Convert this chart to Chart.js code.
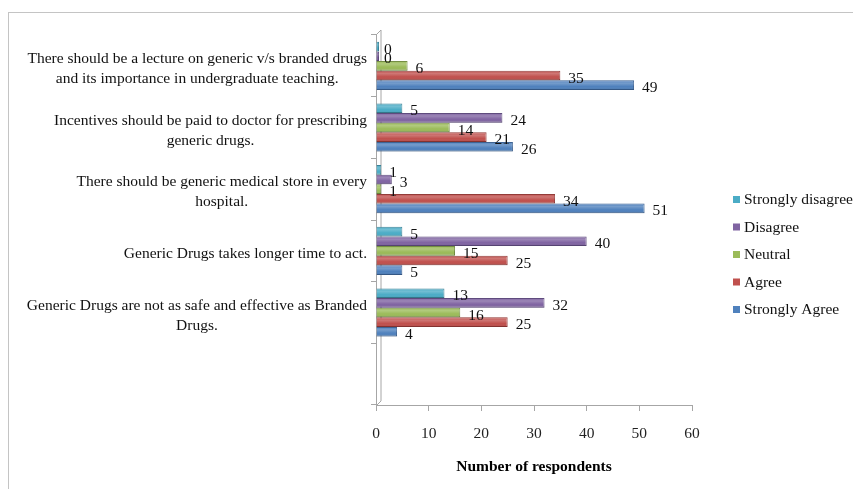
<!DOCTYPE html>
<html>
<head>
<meta charset="utf-8">
<script src="https://cdn.jsdelivr.net/npm/chart.js@4.4.0/dist/chart.umd.min.js"></script>
<style>
  html, body { margin: 0; padding: 0; background: #fff; }
</style>
</head>
<body>
<canvas id="surveyChart" width="853" height="489"></canvas>
<script>
// categories top to bottom (last one is the empty slot Excel left at the bottom)
const categories = [
    ['There should be a lecture on generic v/s branded drugs', 'and its importance in undergraduate teaching.'],
    ['Incentives should be paid to doctor for prescribing', 'generic drugs.'],
    ['There should be generic medical store in every', 'hospital.'],
    ['Generic Drugs takes longer time to act.'],
    ['Generic Drugs are not as safe and effective as Branded', 'Drugs.'],
    ['']
];
const seriesNames = ['Strongly disagree', 'Disagree', 'Neutral', 'Agree', 'Strongly Agree'];
const stronglyDisagree = [0, 5, 1, 5, 13, null];
const disagree = [0, 24, 3, 40, 32, null];
const neutral = [6, 14, 1, 15, 16, null];
const agree = [35, 21, 34, 25, 25, null];
const stronglyAgree = [49, 26, 51, 5, 4, null];
const xTicks = [0, 10, 20, 30, 40, 50, 60];

const seriesColors = ['#4BACC6', '#8064A2', '#9BBB59', '#C0504D', '#4F81BD'];
const seriesBorders = ['#357f94', '#5a467a', '#6f8a3c', '#8f3431', '#365d8f'];
const FONT = '"Liberation Serif", "Times New Roman", serif';
const LABEL_SIZE = 15.5;

const seriesData = [stronglyDisagree, disagree, neutral, agree, stronglyAgree];

// frame, 3D wall, category labels, bar values and legend
const decorPlugin = {
    id: 'decor',
    beforeDraw(chart) {
        const ctx = chart.ctx;
        const { left, top, bottom } = chart.chartArea;
        ctx.save();
        ctx.strokeStyle = '#c4c4c4';
        ctx.lineWidth = 1;
        ctx.strokeRect(8.5, 12.5, 900, 600);
        // back wall of the 3D plot
        ctx.strokeStyle = '#a6a6a6';
        ctx.beginPath();
        ctx.moveTo(left, top);
        ctx.lineTo(left + 5, top - 5);
        ctx.lineTo(left + 5, bottom - 4);
        ctx.lineTo(left, bottom + 1);
        ctx.stroke();
        ctx.restore();
    },
    afterDatasetsDraw(chart) {
        const ctx = chart.ctx;
        // cylinder shading on each bar
        chart.data.datasets.forEach((ds, di) => {
            const meta = chart.getDatasetMeta(di);
            meta.data.forEach((bar, i) => {
                if (ds.data[i] === null) return;
                const h = bar.height;
                const y0 = bar.y - h / 2;
                const g = ctx.createLinearGradient(0, y0, 0, y0 + h);
                g.addColorStop(0, 'rgba(255,255,255,0)');
                g.addColorStop(0.3, 'rgba(255,255,255,0.22)');
                g.addColorStop(0.65, 'rgba(255,255,255,0)');
                g.addColorStop(1, 'rgba(0,0,0,0.12)');
                ctx.fillStyle = g;
                ctx.fillRect(bar.base, y0, bar.x - bar.base, h);
            });
        });
    },
    afterDraw(chart) {
        const ctx = chart.ctx;
        const xScale = chart.scales.x;
        const yScale = chart.scales.y;
        ctx.save();
        ctx.fillStyle = '#111';
        ctx.font = LABEL_SIZE + 'px ' + FONT;
        ctx.textBaseline = 'middle';

        // category labels: block right aligned, lines centred within it
        ctx.textAlign = 'center';
        categories.forEach((lines, i) => {
            const w = Math.max(...lines.map(l => ctx.measureText(l).width));
            const cx = 367 - w / 2;
            const cy = yScale.getPixelForValue(i) + 3;
            const lh = 20;
            lines.forEach((l, k) => {
                ctx.fillText(l, cx, cy + (k - (lines.length - 1) / 2) * lh);
            });
        });

        // value labels at bar ends
        ctx.textAlign = 'left';
        chart.data.datasets.forEach((ds, di) => {
            const meta = chart.getDatasetMeta(di);
            meta.data.forEach((bar, i) => {
                const v = ds.data[i];
                if (v === null) return;
                ctx.fillText(String(v), xScale.getPixelForValue(v) + 8, bar.y + 3);
            });
        });

        // legend
        seriesNames.forEach((name, i) => {
            const y = 200 + i * 27.5;
            ctx.fillStyle = seriesColors[i];
            ctx.fillRect(733, y - 4, 7, 7);
            ctx.fillStyle = '#111';
            ctx.fillText(name, 744, y);
        });
        ctx.restore();
    }
};

new Chart(document.getElementById('surveyChart'), {
    type: 'bar',
    data: {
        labels: categories.map(c => c.join(' ')),
        datasets: seriesNames.map((name, i) => ({
            label: name,
            data: seriesData[i],
            backgroundColor: seriesColors[i],
            borderColor: seriesBorders[i],
            borderWidth: 1,
            minBarLength: 3,
            categoryPercentage: 0.78,
            barPercentage: 1.0
        }))
    },
    options: {
        responsive: false,
        animation: false,
        indexAxis: 'y', // horizontal bars
        layout: {
            padding: { top: 35, left: 0, right: 161, bottom: 0 }
        },
        scales: {
            x: {
                min: 0,
                max: 60,
                afterFit(scale) { scale.height = 84; },
                afterBuildTicks(scale) { scale.ticks = xTicks.map(v => ({ value: v })); },
                grid: {
                    drawOnChartArea: false,
                    tickLength: 6,
                    color: '#a6a6a6'
                },
                border: { color: '#a6a6a6' },
                ticks: {
                    color: '#222',
                    padding: 14,
                    font: { family: FONT, size: LABEL_SIZE }
                },
                title: {
                    display: true,
                    text: 'Number of respondents',
                    color: '#000',
                    font: { family: FONT, size: LABEL_SIZE, weight: 'bold' },
                    padding: { top: 0, bottom: 13 }
                }
            },
            y: {
                afterFit(scale) { scale.width = 376; },
                grid: {
                    offset: true,
                    drawOnChartArea: false,
                    tickLength: 5,
                    color: '#a6a6a6'
                },
                border: { color: '#a6a6a6' },
                ticks: { display: false }
            }
        },
        plugins: {
            legend: { display: false },
            tooltip: { enabled: false }
        }
    },
    plugins: [decorPlugin]
});
</script>
</body>
</html>
